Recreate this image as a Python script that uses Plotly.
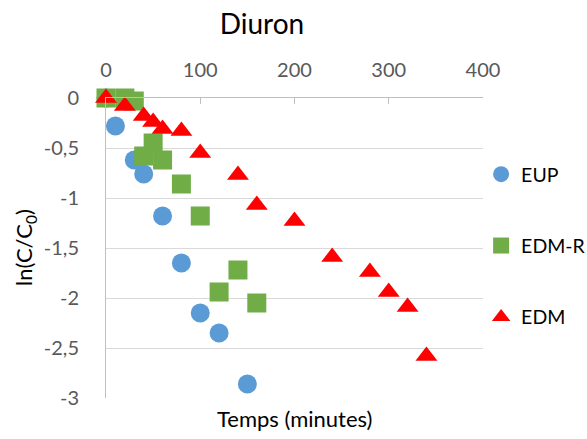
import plotly.graph_objects as go

# temps (minutes) et ln(C/C0) par série
eup_t = [0, 10, 30, 40, 60, 80, 100, 120, 150]
eup_v = [0, -0.28, -0.62, -0.76, -1.18, -1.65, -2.15, -2.35, -2.86]

edmr_t = [0, 20, 30, 40, 50, 60, 80, 100, 120, 140, 160]
edmr_v = [0, 0, -0.03, -0.58, -0.45, -0.62, -0.86, -1.18, -1.94, -1.72, -2.05]

edm_t = [0, 20, 40, 50, 60, 80, 100, 140, 160, 200, 240, 280, 300, 320, 340]
edm_v = [0, -0.08, -0.18, -0.24, -0.31, -0.33, -0.55, -0.77, -1.07, -1.23,
         -1.59, -1.74, -1.94, -2.09, -2.58]

y_ticks = [0, -0.5, -1, -1.5, -2, -2.5, -3]
y_labels = ["0", "-0,5", "-1", "-1,5", "-2", "-2,5", "-3"]

FONT = "Lato"
GRID = "#D9D9D9"
LINE = "#BFBFBF"

fig = go.Figure()
fig.add_trace(go.Scatter(x=eup_t, y=eup_v, mode="markers", name="EUP",
                         legendgroup="a", cliponaxis=False,
                         marker=dict(symbol="circle", size=19, color="#5B9BD5")))
fig.add_trace(go.Scatter(x=edmr_t, y=edmr_v, mode="markers", name="EDM-R",
                         legendgroup="b", cliponaxis=False,
                         marker=dict(symbol="square", size=19, color="#70AD47")))
fig.add_trace(go.Scatter(x=edm_t, y=edm_v, mode="markers", name="EDM",
                         legendgroup="c", cliponaxis=False,
                         marker=dict(symbol="triangle-up", size=19, color="#FF0000")))

fig.update_layout(
    width=587, height=439,
    margin=dict(l=106, r=104, t=98, b=41, autoexpand=False),
    paper_bgcolor="white", plot_bgcolor="white",
    font=dict(family=FONT, size=20, color="#595959"),
    title=dict(text="Diuron", x=262 / 587, xanchor="center", y=1 - 24 / 439,
               yanchor="middle", font=dict(size=28, color="black")),
    showlegend=True,
    legend=dict(x=0.995, xanchor="left", y=0.81, yanchor="top",
                font=dict(size=19.5, color="black"), tracegroupgap=43,
                bgcolor="rgba(0,0,0,0)"),
    xaxis=dict(range=[0, 400], dtick=100, side="top", showgrid=False,
               zeroline=False, showline=True, linecolor=LINE, linewidth=1,
               ticks="inside", ticklen=6, tickcolor=LINE,
               ticklabelstandoff=12, automargin=False),
    yaxis=dict(range=[-3, 0], tickvals=y_ticks, ticktext=y_labels,
               showgrid=True, gridcolor=GRID,
               zeroline=False, showline=True, linecolor=LINE, linewidth=1,
               ticks="", ticklabelstandoff=22, automargin=False),
    annotations=[
        dict(text="Temps (minutes)", x=0.5, xref="paper",
             y=-20 / 300, yref="paper", yanchor="middle",
             showarrow=False, font=dict(size=22, color="black")),
        dict(text="ln(C/C<sub>0</sub>)", textangle=-90, x=-81 / 377,
             xref="paper", xanchor="center", y=0.5, yref="paper",
             yanchor="middle", showarrow=False,
             font=dict(size=22, color="black")),
    ],
)

fig.write_html("out.html", config={"displayModeBar": False},
               post_script="document.body.style.margin='0';")
